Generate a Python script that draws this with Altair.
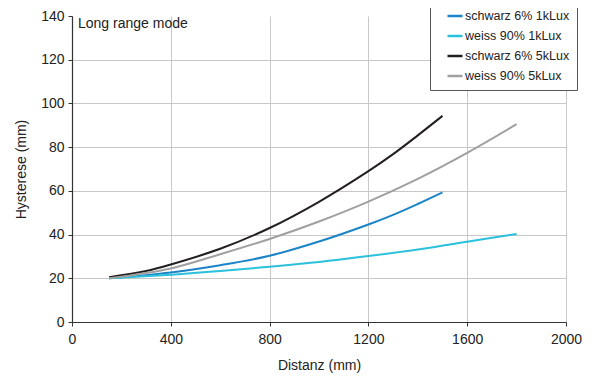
import altair as alt
import pandas as pd

series_names = ["schwarz 6% 1kLux", "weiss 90% 1kLux", "schwarz 6% 5kLux", "weiss 90% 5kLux"]
series_colors = ["#1a84c7", "#2bc0dc", "#231f20", "#a0a0a0"]

x_schwarz_1k = [150, 400, 600, 800, 1000, 1200, 1300, 1400, 1500]
y_schwarz_1k = [20.0, 22.7, 26.0, 30.3, 36.8, 44.6, 49.0, 54.0, 59.3]

x_weiss_1k = [150, 400, 600, 800, 1000, 1200, 1400, 1600, 1800]
y_weiss_1k = [20.0, 21.6, 23.3, 25.3, 27.5, 30.2, 33.2, 36.7, 40.3]

x_schwarz_5k = [150, 300, 400, 600, 800, 1000, 1200, 1300, 1400, 1500]
y_schwarz_5k = [20.5, 23.3, 26.3, 33.5, 43.0, 55.0, 69.0, 76.8, 85.4, 94.3]

x_weiss_5k = [150, 400, 600, 800, 1000, 1200, 1400, 1600, 1800]
y_weiss_5k = [20.0, 24.5, 31.0, 38.0, 46.0, 55.1, 65.5, 77.4, 90.5]

x_ticks = [0, 400, 800, 1200, 1600, 2000]
y_ticks = [0, 20, 40, 60, 80, 100, 120, 140]
panel_label = ["Long range mode"]

rows = []
for name, xs, ys in zip(series_names,
                        [x_schwarz_1k, x_weiss_1k, x_schwarz_5k, x_weiss_5k],
                        [y_schwarz_1k, y_weiss_1k, y_schwarz_5k, y_weiss_5k]):
    for i, (xv, yv) in enumerate(zip(xs, ys)):
        rows.append({"series": name, "x": xv, "y": yv, "order": i})
df = pd.DataFrame(rows)

FONT = "Liberation Sans"

lines = alt.Chart(df).mark_line(strokeWidth=2, interpolate="catmull-rom").encode(
    x=alt.X("x:Q", scale=alt.Scale(domain=[0, 2000], nice=False),
            axis=alt.Axis(values=x_ticks, format="d", title="Distanz (mm)", titlePadding=12,
                          labelPadding=6, tickSize=4, labelFlush=False)),
    y=alt.Y("y:Q", scale=alt.Scale(domain=[0, 140], nice=False),
            axis=alt.Axis(values=y_ticks, format="d", title="Hysterese (mm)", titlePadding=12,
                          labelPadding=4, tickSize=4, labelFlush=False,
                          gridColor={"condition": {"test": "datum.value === 140", "value": "transparent"},
                                     "value": "#c8c8c8"})),
    color=alt.Color("series:N", scale=alt.Scale(domain=series_names, range=series_colors),
                    legend=alt.Legend(title=None, orient="none", legendX=358, legendY=-16,
                                      strokeColor="#555555", fillColor="white", padding=7,
                                      symbolType="stroke", symbolSize=225, symbolStrokeWidth=2.5,
                                      symbolOffset=9,
                                      labelFontSize=12.5, labelFont=FONT, labelColor="#222222",
                                      rowPadding=4, labelOffset=1, offset=0)),
    order="order:Q",
)

label = alt.Chart(pd.DataFrame({"t": panel_label})).mark_text(
    align="left", baseline="middle", fontSize=14, font=FONT, color="#222222"
).encode(x=alt.value(6), y=alt.value(8), text="t:N")

chart = alt.layer(lines, label).properties(
    width=494, height=306,
    autosize=alt.AutoSizeParams(type="none"),
    padding={"left": 64, "top": 8, "right": 20, "bottom": 56},
).configure_view(stroke=None).configure_axis(
    labelFont=FONT, titleFont=FONT, labelFontSize=14, titleFontSize=14,
    labelColor="#222222", titleColor="#222222", titleFontWeight="normal",
    domainColor="#333333", tickColor="#333333", gridColor="#c8c8c8", domainWidth=1.2
)

chart.save("out.html", embed_options={"renderer": "svg", "actions": False})
